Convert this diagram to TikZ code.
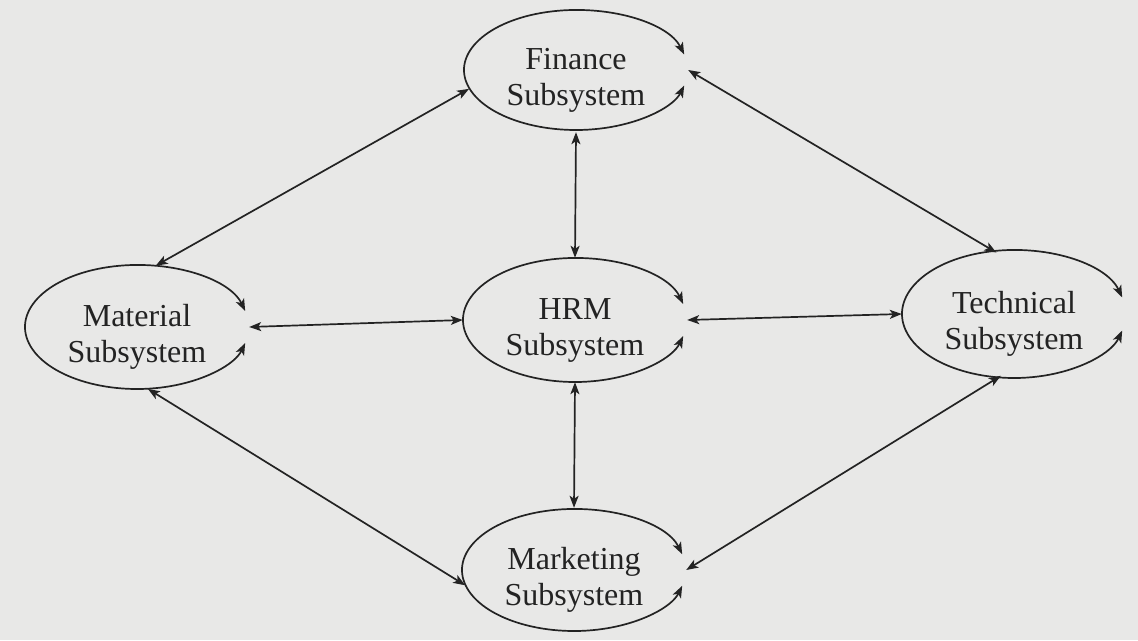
\documentclass[tikz,border=0pt]{standalone}
\usepackage{fontspec}
\setmainfont{Liberation Serif}
\usetikzlibrary{arrows.meta,shapes.geometric}
\definecolor{paper}{HTML}{E8E8E7}
\definecolor{ink}{HTML}{232323}
\newcommand\toppad{\rule{0pt}{41pt}}
\tikzset{
  tip/.style={Stealth[length=12pt,width=9pt,inset=3pt]},
  sub/.style={ellipse, draw=none, inner sep=0pt, minimum width=224pt, minimum height=124pt,
    align=center, text=ink, font=\fontsize{32}{36}\selectfont},
  link/.style={{Stealth[length=12pt,width=9pt,inset=3pt]}-{Stealth[length=12pt,width=9pt,inset=3pt]}, line width=1.7pt, draw=ink},
  loopy/.style={{Stealth[length=12pt,width=9pt,inset=3pt]}-{Stealth[length=12pt,width=9pt,inset=3pt]}, line width=1.7pt, draw=ink}
}
\begin{document}
\begin{tikzpicture}[x=1pt,y=1pt]
\fill[paper] (0,0) rectangle (1138,640);
\useasboundingbox (0,0) rectangle (1138,640);

\node[sub] (fin) at (576,570) {\toppad Finance\\Subsystem};
\node[sub] (hrm) at (575,320) {\toppad HRM\\Subsystem};
\node[sub] (mat) at (137,313) {\toppad Material\\Subsystem};
\node[sub] (tec) at (1014,326) {\toppad Technical\\Subsystem};
\node[sub] (mkt) at (574,70) {\toppad Marketing\\Subsystem};

% open ellipse outlines with arrow tips at both ends
\draw[loopy] ([shift={(15:112pt and 60pt)}]fin.center) arc[start angle=15,end angle=345,x radius=112pt,y radius=60pt];
\draw[loopy] ([shift={(15:112pt and 62pt)}]hrm.center) arc[start angle=15,end angle=345,x radius=112pt,y radius=62pt];
\draw[loopy] ([shift={(15:112pt and 62pt)}]mat.center) arc[start angle=15,end angle=345,x radius=112pt,y radius=62pt];
\draw[loopy] ([shift={(15:112pt and 64pt)}]tec.center) arc[start angle=15,end angle=345,x radius=112pt,y radius=64pt];
\draw[loopy] ([shift={(15:112pt and 61pt)}]mkt.center) arc[start angle=15,end angle=345,x radius=112pt,y radius=61pt];

% connectors
\draw[link] (mat.73) -- (fin.190);
\draw[link] (mat.east) -- (hrm.west);
\draw[link] (mat.280) -- (mkt.188);
\draw[link] (fin.south) -- (hrm.north);
\draw[link] (fin.east) -- (tec.106);
\draw[link] (hrm.east) -- (tec.west);
\draw[link] (hrm.south) -- (mkt.north);
\draw[link] (mkt.east) -- (tec.258);
\end{tikzpicture}
\end{document}
